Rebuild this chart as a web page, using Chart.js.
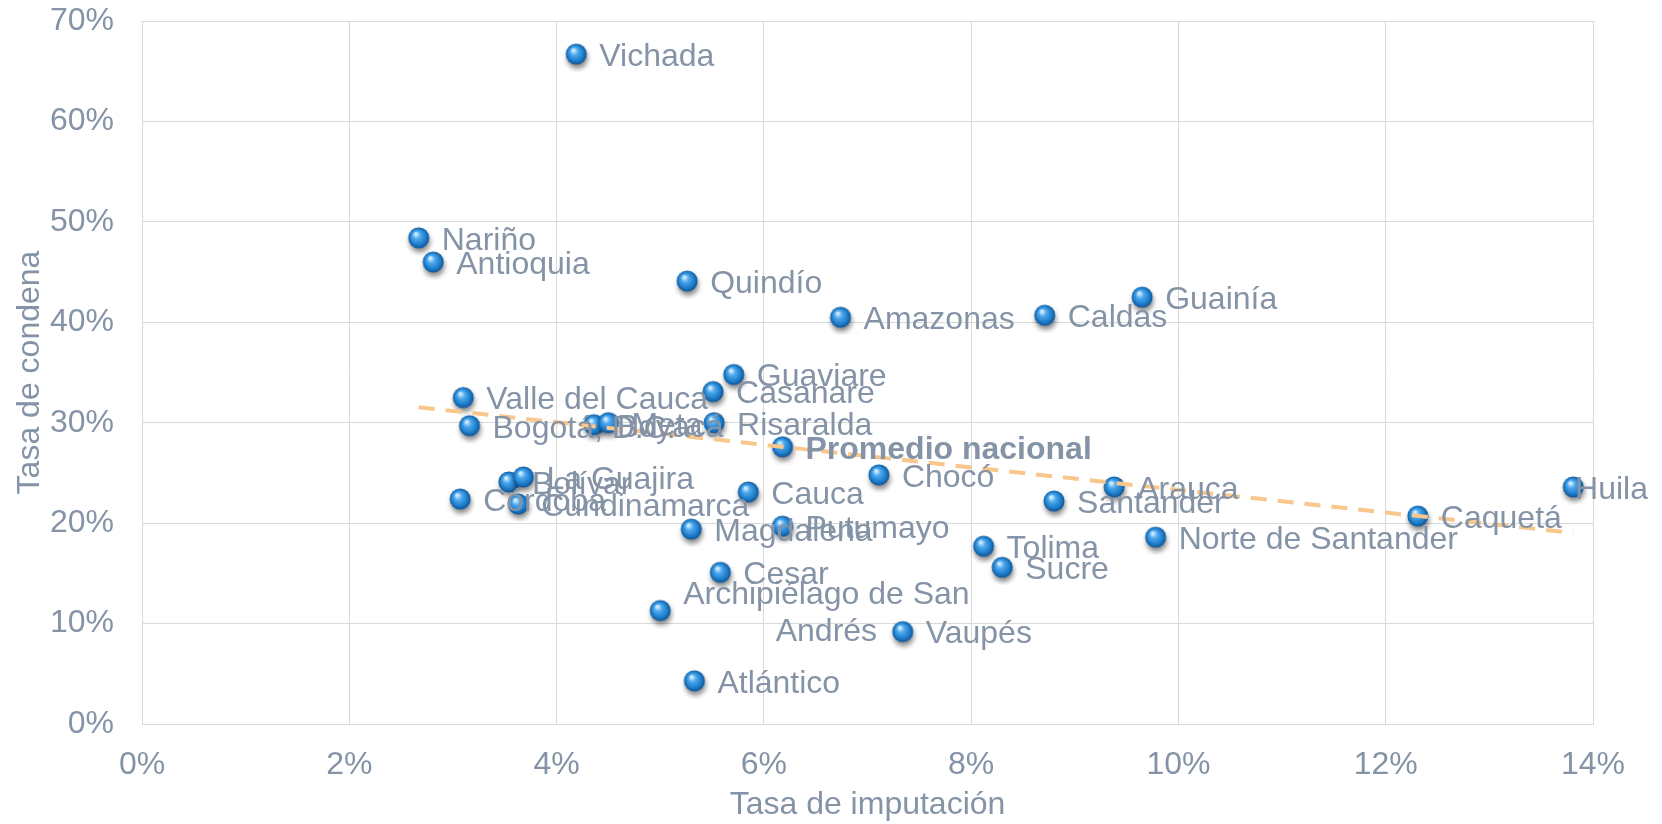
<!DOCTYPE html>
<html lang="es">
<head>
<meta charset="utf-8">
<title>Tasa de imputación vs. tasa de condena</title>
<script src="https://cdn.jsdelivr.net/npm/chart.js@4.4.1/dist/chart.umd.min.js"></script>
<style>
  html, body { margin: 0; padding: 0; background: #fff; }
  #grafico { display: block; }
</style>
</head>
<body>
<canvas id="grafico" width="1662" height="824"></canvas>
<script>
// datos (porcentajes)
const departamentos = [
  'Vichada', 'Nariño', 'Antioquia', 'Quindío', 'Amazonas', 'Caldas', 'Guainía',
  'Guaviare', 'Casanare', 'Valle del Cauca', 'Bogotá, D.C.', 'Boyacá', 'Meta',
  'Risaralda', 'Bolívar', 'La Guajira', 'Córdoba', 'Cundinamarca', 'Cauca',
  'Chocó', 'Magdalena', 'Putumayo', 'Tolima', 'Sucre', 'Santander', 'Arauca',
  'Norte de Santander', 'Cesar', 'Vaupés', 'Archipiélago de San Andrés',
  'Atlántico', 'Caquetá', 'Huila'
];
const tasaImputacion = [
  4.19, 2.67, 2.81, 5.26, 6.74, 8.71, 9.65,
  5.71, 5.51, 3.10, 3.16, 4.36, 4.50,
  5.52, 3.54, 3.68, 3.07, 3.63, 5.85,
  7.11, 5.30, 6.18, 8.12, 8.30, 8.80, 9.38,
  9.78, 5.58, 7.34, 5.00,
  5.33, 12.31, 13.81
];
const tasaCondena = [
  66.7, 48.4, 46.0, 44.1, 40.5, 40.7, 42.5,
  34.8, 33.1, 32.5, 29.7, 29.8, 30.0,
  30.0, 24.1, 24.6, 22.4, 21.9, 23.1,
  24.8, 19.4, 19.7, 17.7, 15.6, 22.2, 23.6,
  18.6, 15.1, 9.2, 11.3,
  4.3, 20.7, 23.6
];
const promedioNombre = ['Promedio nacional'];
const promedioImputacion = [6.18];
const promedioCondena = [27.6];

const ticksX = [0, 2, 4, 6, 8, 10, 12, 14];
const ticksY = [0, 10, 20, 30, 40, 50, 60, 70];

const colorTexto = '#8593A6';
const colorRejilla = '#D9D9D9';
const fuente = '"Liberation Sans", Arial, sans-serif';

// línea de tendencia lineal (mínimos cuadrados sobre los departamentos)
function tendencia(xs, ys) {
  const n = xs.length;
  const mx = xs.reduce((a, b) => a + b, 0) / n;
  const my = ys.reduce((a, b) => a + b, 0) / n;
  let sxy = 0, sxx = 0;
  xs.forEach((x, i) => { sxy += (x - mx) * (ys[i] - my); sxx += (x - mx) * (x - mx); });
  const m = sxy / sxx;
  const b = my - m * mx;
  const x0 = Math.min(...xs), x1 = Math.max(...xs);
  return [{ x: x0, y: m * x0 + b }, { x: x1, y: m * x1 + b }];
}

// marcador en forma de esfera con sombra
function esfera() {
  const c = document.createElement('canvas');
  c.width = 36; c.height = 36;
  const g = c.getContext('2d');
  const cx = 18, cy = 18, r = 10.5;
  g.shadowColor = 'rgba(0,0,0,0.45)';
  g.shadowBlur = 5;
  g.shadowOffsetX = 1;
  g.shadowOffsetY = 4;
  const grad = g.createRadialGradient(cx - 3, cy - 4, 1, cx, cy, r);
  grad.addColorStop(0, '#d2ecff');
  grad.addColorStop(0.3, '#4ea9ee');
  grad.addColorStop(0.75, '#1c7bc8');
  grad.addColorStop(1, '#0f5394');
  g.fillStyle = grad;
  g.beginPath();
  g.arc(cx, cy, r, 0, Math.PI * 2);
  g.fill();
  return c;
}

function partirTexto(ctx, texto, maxAncho) {
  if (ctx.measureText(texto).width <= maxAncho) return [texto];
  const palabras = texto.split(' ');
  const lineas = [];
  let actual = '';
  palabras.forEach(p => {
    const prueba = actual ? actual + ' ' + p : p;
    if (ctx.measureText(prueba).width > maxAncho && actual) {
      lineas.push(actual);
      actual = p;
    } else {
      actual = prueba;
    }
  });
  if (actual) lineas.push(actual);
  return lineas;
}

// etiquetas a la derecha de cada punto
const etiquetas = {
  id: 'etiquetas',
  afterDatasetsDraw(chart) {
    const ctx = chart.ctx;
    ctx.save();
    ctx.fillStyle = colorTexto;
    ctx.textBaseline = 'middle';
    ctx.textAlign = 'left';
    chart.data.datasets.forEach((ds, di) => {
      if (!ds.nombres) return;
      const meta = chart.getDatasetMeta(di);
      ctx.font = (ds.negrita ? 'bold ' : '') + '32px ' + fuente;
      meta.data.forEach((pt, i) => {
        const lineas = partirTexto(ctx, ds.nombres[i], 310);
        const ancho = Math.max(...lineas.map(l => ctx.measureText(l).width));
        let x = pt.x + 23;
        // si no cabe, se corre hacia la izquierda como en Excel
        if (x + ancho > chart.width - 14) x = chart.width - 14 - ancho;
        const alto = 37;
        lineas.forEach((l, k) => {
          const w = ctx.measureText(l).width;
          ctx.fillText(l, x + (ancho - w) / 2, pt.y + 3 + (k - (lineas.length - 1) / 2) * alto);
        });
      });
    });
    ctx.restore();
  }
};

const marcador = esfera();

new Chart(document.getElementById('grafico'), {
  type: 'scatter',
  data: {
    datasets: [
      {
        type: 'line',
        label: 'Tendencia',
        data: tendencia(tasaImputacion, tasaCondena),
        borderColor: '#F9C68B',
        borderWidth: 4,
        borderDash: [16, 11],
        pointRadius: 0,
        fill: false,
        order: 0
      },
      {
        label: 'Departamentos',
        data: tasaImputacion.map((x, i) => ({ x: x, y: tasaCondena[i] })),
        nombres: departamentos,
        pointStyle: marcador,
        order: 1
      },
      {
        label: 'Promedio nacional',
        data: promedioImputacion.map((x, i) => ({ x: x, y: promedioCondena[i] })),
        nombres: promedioNombre,
        negrita: true,
        pointStyle: marcador,
        order: 1
      }
    ]
  },
  options: {
    responsive: false,
    animation: false,
    events: [],
    layout: { padding: { top: 21, right: 69, bottom: 0, left: 0 } },
    plugins: {
      legend: { display: false },
      tooltip: { enabled: false }
    },
    scales: {
      x: {
        type: 'linear',
        min: 0,
        max: 14,
        afterBuildTicks: s => { s.ticks = ticksX.map(v => ({ value: v })); },
        afterFit: s => { s.height = 100; s.paddingLeft = 0; s.paddingRight = 0; },
        ticks: {
          callback: v => v + '%',
          color: colorTexto,
          font: { family: fuente, size: 32 },
          padding: 22,
          maxRotation: 0
        },
        grid: { color: colorRejilla, drawTicks: false },
        border: { color: colorRejilla },
        title: {
          display: true,
          text: 'Tasa de imputación',
          color: colorTexto,
          font: { family: fuente, size: 32 },
          padding: { top: 0, bottom: 0 }
        }
      },
      y: {
        type: 'linear',
        min: 0,
        max: 70,
        afterBuildTicks: s => { s.ticks = ticksY.map(v => ({ value: v })); },
        afterFit: s => { s.width = 142; s.paddingTop = 0; s.paddingBottom = 0; },
        ticks: {
          callback: v => v + '%',
          color: colorTexto,
          font: { family: fuente, size: 32 },
          padding: 28
        },
        grid: { color: colorRejilla, drawTicks: false },
        border: { color: colorRejilla },
        title: {
          display: true,
          text: 'Tasa de condena',
          color: colorTexto,
          font: { family: fuente, size: 32 },
          padding: { top: 11, bottom: 0 }
        }
      }
    }
  },
  plugins: [etiquetas]
});
</script>
</body>
</html>
